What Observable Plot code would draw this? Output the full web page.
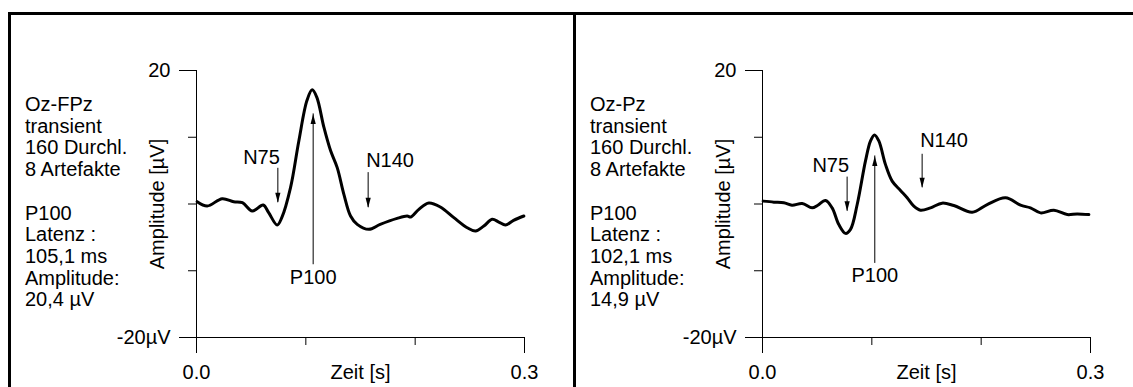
<!DOCTYPE html>
<html>
<head>
<meta charset="utf-8">
<script src="https://cdn.jsdelivr.net/npm/d3@7"></script>
<script src="https://cdn.jsdelivr.net/npm/@observablehq/plot@0.6"></script>
<style>
  html, body { margin: 0; padding: 0; background: #fff; overflow: hidden; }
  #wrap { position: absolute; left: 8px; top: 12px; display: flex; width: 1300px; }
  .panel { position: relative; border-left: 3px solid #000; border-top: 3px solid #000; width: 562px; height: 372px; flex: none; }
  .panel svg { position: absolute; left: 0; top: 0; }
  .info { position: absolute; left: 14px; top: 79px; font: 20px "Liberation Sans", Arial, sans-serif; line-height: 21.7px; color: #000; white-space: pre; }
</style>
</head>
<body>
<div id="wrap">
  <div class="panel" id="p1"></div>
  <div class="panel" id="p2"></div>
</div>
<script>
// ---- data: Oz-FPz (left) ----
const fpzTime = [0.0006,0.0098,0.0235,0.034,0.042,0.051,0.061,0.066,0.0738,0.078,0.086,0.0936,0.101,0.1058,0.110,0.1165,0.1226,0.1287,0.1348,0.1409,0.147,0.1576,0.168,0.1835,0.1927,0.196,0.2034,0.2125,0.223,0.2354,0.2476,0.2552,0.2628,0.2704,0.2765,0.2826,0.290,0.2994];
const fpzAmp  = [0.35,-0.3,0.8,0.35,0.2,-1.05,-0.15,-1.3,-3.15,-2.05,2.45,9.45,15.5,17.1,16.0,11.5,8.0,5.45,1.45,-1.8,-3.05,-3.8,-3.05,-2.15,-1.8,-1.95,-0.8,0.15,-0.45,-2.05,-3.55,-4.05,-3.3,-2.3,-2.7,-3.15,-2.45,-1.8];
// ---- data: Oz-Pz (right) ----
const pzTime = [0.0006,0.0104,0.0195,0.027,0.0363,0.0454,0.0506,0.0576,0.0637,0.0698,0.0759,0.0805,0.0866,0.0942,0.0988,0.1024,0.1064,0.1125,0.1186,0.1262,0.1323,0.1384,0.1445,0.1537,0.1643,0.175,0.1918,0.2055,0.2223,0.236,0.2451,0.2543,0.2665,0.2787,0.2878,0.2985];
const pzAmp  = [0.43,0.28,0.18,-0.18,0.08,-0.58,-0.18,0.53,-0.58,-3.08,-4.4,-3.8,-0.08,6.45,9.45,10.35,9.45,5.9,3.43,2.03,0.93,-0.33,-0.93,-0.58,0.13,-0.23,-1.23,-0.08,0.93,-0.18,-0.58,-1.33,-0.93,-1.58,-1.48,-1.58];

// ---- peak markers ----
const peakNames = ["N75", "P100", "N140"];
const fpzPeakTime  = [0.0744, 0.1067, 0.157];
const fpzArrowFrom = [5.35, -9.1, 4.7];
const fpzArrowTo   = [0.2, 13.5, -0.55];
const fpzLabelAmp  = [7.0, -11.1, 6.45];
const pzPeakTime  = [0.0774, 0.1027, 0.146];
const pzArrowFrom = [4.03, -8.9, 7.45];
const pzArrowTo   = [-1.08, 7.2, 2.43];
const pzLabelAmp  = [5.8, -10.7, 9.45];

// ---- axes ----
const yTicksLabeled = [20, -20];
const yTicksMinor = [10, 0, -10];
const xTicksLabeled = [0, 0.3];
const xTicksMinor = [0.1, 0.2];
const xLabel = "Zeit [s]";
const yLabel = "Amplitude [µV]";

// ---- info text ----
const fpzInfo = ["Oz-FPz", "transient", "160 Durchl.", "8 Artefakte", "", "P100", "Latenz :", "105,1 ms", "Amplitude:", "20,4 µV"];
const pzInfo  = ["Oz-Pz", "transient", "160 Durchl.", "8 Artefakte", "", "P100", "Latenz :", "102,1 ms", "Amplitude:", "14,9 µV"];

const arrowHead = { draw(ctx) { ctx.moveTo(0, 0); ctx.lineTo(-2.6, 10); ctx.lineTo(2.6, 10); ctx.closePath(); } };

function panel(el, time, amp, pt, from, to, lab, info, mLeft, mRight) {
  const curve = time.map((t, i) => ({t, v: amp[i]}));
  const peaks = peakNames.map((name, i) => ({name, t: pt[i], from: from[i], to: to[i], lab: lab[i]}));
  const chart = Plot.plot({
    width: 562, height: 372,
    marginLeft: mLeft, marginRight: mRight, marginTop: 55, marginBottom: 50,
    style: {fontFamily: '"Liberation Sans", Arial, sans-serif', fontSize: "20px", background: "transparent", color: "#000"},
    x: {domain: [0, 0.3]},
    y: {domain: [-20, 20]},
    marks: [
      Plot.ruleX([0], {stroke: "#000", strokeWidth: 1}),
      Plot.ruleY([-20], {stroke: "#000", strokeWidth: 1}),
      Plot.axisY({ticks: yTicksLabeled, tickSize: 17, tickPadding: 9, tickFormat: d => d === -20 ? "-20µV" : String(d), label: yLabel, labelAnchor: "center", labelArrow: "none", labelOffset: 47}),
      Plot.axisY({ticks: yTicksMinor, tickSize: 8, tickFormat: () => "", label: null}),
      Plot.axisX({ticks: xTicksLabeled, tickSize: 16, tickPadding: 11, tickFormat: d3.format(".1f"), label: xLabel, labelAnchor: "center", labelArrow: "none", labelOffset: 41}),
      Plot.axisX({ticks: xTicksMinor, tickSize: 8, tickFormat: () => "", label: null}),
      Plot.line(curve, {x: "t", y: "v", curve: "catmull-rom", stroke: "#000", strokeWidth: 3}),
      Plot.ruleX(peaks, {x: "t", y1: "from", y2: "to", stroke: "#000", strokeWidth: 1}),
      Plot.dot(peaks, {x: "t", y: "to", symbol: arrowHead, rotate: d => d.to > d.from ? 0 : 180, fill: "#000", stroke: "none"}),
      Plot.text(peaks.filter(d => d.name === "N75"), {x: "t", y: "lab", text: "name", textAnchor: "end", dx: 2}),
      Plot.text(peaks.filter(d => d.name === "P100"), {x: "t", y: "lab", text: "name", textAnchor: "middle"}),
      Plot.text(peaks.filter(d => d.name === "N140"), {x: "t", y: "lab", text: "name", textAnchor: "start", dx: -2})
    ]
  });
  el.appendChild(chart);
  const div = document.createElement("div");
  div.className = "info";
  div.textContent = info.join("\n");
  el.appendChild(div);
}

panel(document.getElementById("p1"), fpzTime, fpzAmp, fpzPeakTime, fpzArrowFrom, fpzArrowTo, fpzLabelAmp, fpzInfo, 185, 49);
panel(document.getElementById("p2"), pzTime, pzAmp, pzPeakTime, pzArrowFrom, pzArrowTo, pzLabelAmp, pzInfo, 186, 48);
</script>
</body>
</html>
